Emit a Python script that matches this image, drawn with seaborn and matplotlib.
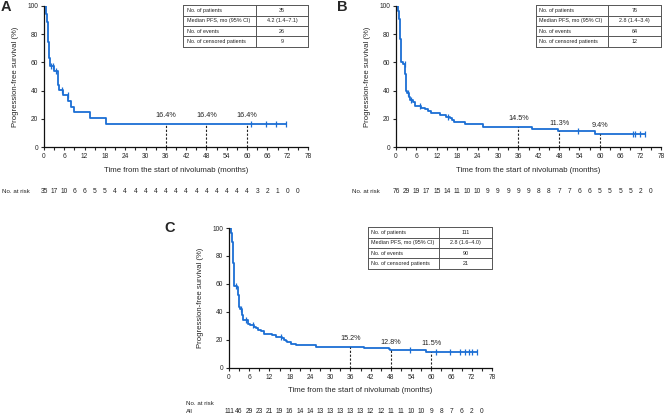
import numpy as np
import matplotlib
matplotlib.use("Agg")
import matplotlib.pyplot as plt
import matplotlib.transforms as mtransforms
import seaborn as sns

# ---------------- data ----------------
months_ticks = list(range(0, 79, 6))
risk_months = list(range(0, 76, 3))
landmarks = [36, 48, 60]

A_time = [0, 0.5, 0.7, 0.9, 1.0, 1.1, 1.2, 1.3, 1.4, 1.5, 1.6, 1.7, 3.1, 4.0, 4.1, 4.2, 4.3,
          5.5, 7.2, 7.9, 8.8, 13.6, 18.2, 71.4]
A_surv = [100, 97.1, 94.3, 91.4, 88.6, 85.7, 80.0, 74.3, 71.4, 65.7, 62.9, 57.1, 53.9, 50.6,
          47.2, 43.8, 40.5, 36.8, 32.7, 28.6, 24.5, 20.4, 16.4, 16.4]
A_censor = [2.1, 2.8, 3.6, 5.2, 7.0, 61.3, 65.7, 68.5, 71.4]
A_landmark_vals = ["16.4%", "16.4%", "16.4%"]
A_table = ["35", "4.2 (1.4\u20137.1)", "26", "9"]
A_risk = [35, 17, 10, 6, 6, 5, 5, 4, 4, 4, 4, 4, 4, 4, 4, 4, 4, 4, 4, 4, 4, 3, 2, 1, 0, 0]

B_time = [0, 0.5, 0.7, 0.9, 1.0, 1.1, 1.2, 1.3, 1.4, 1.5, 2.2, 2.7, 2.8, 2.9, 3.0, 3.3, 3.9,
          4.1, 5.0, 5.5, 7.4, 8.6, 9.4, 10.3, 13.0, 14.8, 15.8, 16.5, 17.1, 20.2, 25.7, 39.9,
          47.6, 58.6, 73.3]
B_surv = [100, 98.7, 96.1, 93.4, 90.8, 88.2, 82.9, 76.3, 68.4, 60.5, 59.2, 52.0, 46.0, 42.0,
          40.0, 38.6, 35.8, 33.0, 31.6, 29.0, 28.0, 27.0, 25.8, 24.4, 23.0, 21.6, 20.3, 19.0,
          17.8, 16.3, 14.5, 13.0, 11.3, 9.4, 9.4]
B_censor = [2.6, 3.5, 4.5, 7.0, 15.3, 53.7, 69.7, 70.2, 71.8, 73.3]
B_landmark_vals = ["14.5%", "11.3%", "9.4%"]
B_table = ["76", "2.8 (1.4\u20133.4)", "64", "12"]
B_risk = [76, 29, 19, 17, 15, 14, 11, 10, 10, 9, 9, 9, 9, 9, 8, 8, 7, 7, 6, 6, 5, 5, 5, 5, 2, 0]

C_time = [0, 0.5, 0.7, 0.9, 1.0, 1.1, 1.2, 1.3, 1.4, 1.5, 2.3, 2.8, 2.9, 3.0, 3.3, 3.9, 4.1,
          4.3, 5.5, 6.2, 7.4, 8.0, 8.6, 9.4, 10.4, 12.8, 13.8, 14.6, 15.6, 16.2, 16.8, 17.3,
          18.5, 20.0, 25.8, 39.9, 47.4, 47.8, 58.5, 73.5]
C_surv = [100, 98.2, 96.4, 93.7, 90.1, 86.5, 80.2, 74.8, 66.7, 58.6, 57.7, 52.0, 46.0, 43.8,
          42.0, 38.0, 35.5, 34.5, 31.5, 30.5, 29.5, 28.5, 27.3, 26.2, 24.5, 23.5, 22.5, 22.0,
          21.2, 20.2, 19.4, 18.4, 17.3, 16.2, 15.2, 14.0, 13.4, 12.8, 11.5, 11.5]
C_censor = [2.2, 3.6, 5.0, 7.0, 15.3, 53.6, 61.3, 65.5, 68.5, 70.0, 71.3, 72.0, 73.5]
C_landmark_vals = ["15.2%", "12.8%", "11.5%"]
C_table = ["111", "2.8 (1.6\u20134.0)", "90", "21"]
C_risk = [111, 46, 29, 23, 21, 19, 16, 14, 14, 13, 13, 13, 13, 13, 12, 12, 11, 11, 10, 10, 9,
          8, 7, 6, 2, 0]

table_labels = ["No. of patients", "Median PFS, mo (95% CI)", "No. of events",
                "No. of censored patients"]

# ---------------- style ----------------
sns.set_style("ticks")
plt.rcParams["font.family"] = ["Liberation Sans", "DejaVu Sans"]
BLUE = "#1b6ed4"
TICK_FS = 4.8
W, H = 666, 415

fig = plt.figure(figsize=(W / 100, H / 100), dpi=100)


def px_ax(left, top, right, bottom):
    return fig.add_axes([left / W, 1 - bottom / H, (right - left) / W, (bottom - top) / H])


def step_value(time, surv, t):
    idx = np.searchsorted(time, t, side="right") - 1
    return np.asarray(surv)[idx]


def draw_panel(ax, time, surv, censor, lm_vals, table_vals, risk, letter,
               letter_xy, risk_y, risk_label_x, table_split, two_line_risk=False):
    sns.lineplot(x=time, y=surv, ax=ax, color=BLUE, linewidth=1.3, estimator=None,
                 drawstyle="steps-post", sort=False)
    cy = [step_value(time, surv, c) for c in censor]
    sns.scatterplot(x=censor, y=cy, ax=ax, marker="|", s=18, color=BLUE, linewidth=0.9,
                    zorder=5)
    for lm, lab in zip(landmarks, lm_vals):
        v = step_value(time, surv, lm)
        ax.plot([lm, lm], [0, v], color="#222222", linestyle=(0, (2, 1.5)), linewidth=0.8)
        ax.text(lm, v + 3.2, lab, ha="center", va="bottom", fontsize=5.2, color="#222222")
    ax.set_xlim(0, 78)
    ax.set_ylim(0, 100)
    ax.set_xticks(months_ticks)
    ax.set_xticks(risk_months + [78], minor=True)
    ax.set_yticks([0, 20, 40, 60, 80, 100])
    ax.tick_params(axis="both", which="major", labelsize=TICK_FS, length=2.5, width=0.8, pad=1.5)
    ax.tick_params(axis="x", which="minor", length=2.0, width=0.8)
    for s in ["left", "bottom"]:
        ax.spines[s].set_linewidth(0.9)
        ax.spines[s].set_color("#111111")
    sns.despine(ax=ax)
    ax.set_xlabel("Time from the start of nivolumab (months)", fontsize=5.6, labelpad=5)
    ax.set_ylabel("Progression-free survival (%)", fontsize=5.6, labelpad=6)

    # summary table
    x0, x1 = 0.528, 1.0
    y1, y0 = 1.005, 0.71
    xs = x0 + (x1 - x0) * table_split
    rh = (y1 - y0) / 4
    kw = dict(transform=ax.transAxes, clip_on=False, color="#555555", linewidth=0.7)
    for i in range(5):
        ax.plot([x0, x1], [y1 - i * rh, y1 - i * rh], **kw)
    for xx in [x0, xs, x1]:
        ax.plot([xx, xx], [y0, y1], **kw)
    for i, (lab, val) in enumerate(zip(table_labels, table_vals)):
        yc = y1 - (i + 0.5) * rh
        ax.text(x0 + 0.012, yc, lab, transform=ax.transAxes, fontsize=3.9, va="center",
                ha="left", color="#222222")
        ax.text((xs + x1) / 2, yc, val, transform=ax.transAxes, fontsize=3.9, va="center",
                ha="center", color="#222222")

    # panel letter
    fig.text(letter_xy[0] / W, 1 - letter_xy[1] / H, letter, fontsize=10.5, fontweight="bold",
             ha="left", va="center")

    # risk table
    trans = mtransforms.blended_transform_factory(ax.transData, fig.transFigure)
    for m, n in zip(risk_months, risk):
        ax.text(m, 1 - risk_y / H, str(n), transform=trans, ha="center", va="center",
                fontsize=TICK_FS, color="#222222", clip_on=False)
    if two_line_risk:
        fig.text(risk_label_x / W, 1 - (risk_y - 8) / H, "No. at risk", fontsize=4.4,
                 ha="left", va="center", color="#222222")
        fig.text(risk_label_x / W, 1 - risk_y / H, "All", fontsize=4.4,
                 ha="left", va="center", color="#222222")
    else:
        fig.text(risk_label_x / W, 1 - risk_y / H, "No. at risk", fontsize=4.4,
                 ha="left", va="center", color="#222222")


axA = px_ax(44, 6, 308, 147)
axB = px_ax(396, 6, 661, 147)
axC = px_ax(229, 228, 492, 368)

draw_panel(axA, A_time, A_surv, A_censor, A_landmark_vals, A_table, A_risk, "A",
           (1, 7), 191, 2, 0.584)
draw_panel(axB, B_time, B_surv, B_censor, B_landmark_vals, B_table, B_risk, "B",
           (337, 7), 191, 352, 0.576)
draw_panel(axC, C_time, C_surv, C_censor, C_landmark_vals, C_table, C_risk, "C",
           (164, 228), 411, 186, 0.576, two_line_risk=True)

fig.savefig("out.png", dpi=100)
